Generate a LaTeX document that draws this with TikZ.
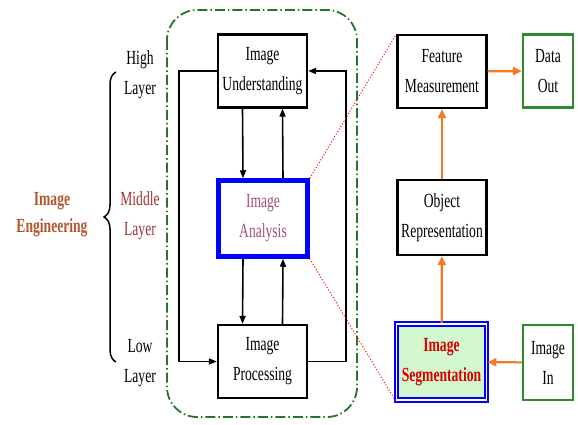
\documentclass[tikz,border=0pt]{standalone}
\usepackage{fontspec}
\setmainfont{Liberation Serif}[FakeStretch=0.68]
\usetikzlibrary{arrows.meta,decorations.pathreplacing}
\definecolor{engbrown}{HTML}{B4562E}
\definecolor{midred}{HTML}{A03434}
\definecolor{anapink}{HTML}{A2507C}
\definecolor{ioggreen}{HTML}{2E8B2E}
\definecolor{flow}{HTML}{F27A24}
\definecolor{seggreen}{HTML}{D2F7CF}
\tikzset{
  txt/.style={font=\fontsize{20}{30}\selectfont, align=center},
  blk/.style={txt, draw=black, line width=2.2pt, minimum width=89pt, minimum height=73pt, inner sep=1pt},
  iobox/.style={txt, draw=ioggreen, line width=2.2pt, minimum width=50pt, minimum height=73pt, inner sep=1pt},
  blkarrow/.style={line width=1.6pt, -{Triangle[length=8pt,width=6pt]}},
  flowarrow/.style={line width=2.2pt, color=flow, -{Triangle[length=9pt,width=8pt]}}
}

\begin{document}
\begin{tikzpicture}[x=1pt, y=-1pt]
			%%%%% START %%%%%
			\useasboundingbox (0, 0) rectangle (578, 425);
			
			\draw[line width=1.8pt, color=ioggreen!85!black, rounded corners=30pt, dash pattern=on 10pt off 3pt on 1.5pt off 3pt] (167, 10) rectangle (357, 417);
			
			\node[txt, color=engbrown, font=\fontsize{20}{27}\selectfont\bfseries] (eng) at (52, 215) {Image\\Engineering};
			\draw[line width=1.5pt, decorate, decoration={brace, amplitude=12pt}] (116, 362) -- (116, 72);
			
			\node[txt] (high) at (140, 75) {High\\Layer};
			\node[txt, color=midred] (mid) at (140, 216) {Middle\\Layer};
			\node[txt] (low) at (140, 363) {Low\\Layer};
			
			\node[blk] (und) at (262.5, 71) {Image\\Understanding};
			\node[blk, draw=blue, line width=4.5pt, minimum height=76pt, text=anapink] (ana) at (263, 218.5) {Image\\Analysis};
			\node[blk] (proc) at (262.5, 361.5) {Image\\Processing};
			
			\draw[blkarrow] ([xshift=-20pt]und.south) -- ([xshift=-20pt]ana.north);
			\draw[blkarrow] ([xshift=20pt]ana.north) -- ([xshift=20pt]und.south);
			\draw[blkarrow] ([xshift=-20pt]ana.south) -- ([xshift=-20pt]proc.north);
			\draw[blkarrow] ([xshift=20pt]proc.north) -- ([xshift=20pt]ana.south);
			\draw[blkarrow] (und.west) -- ++(-38, 0) |- (proc.west);
			\draw[blkarrow] (proc.east) -- ++(38, 0) |- (und.east);
			
			\node[blk] (feat) at (442, 71.5) {Feature\\Measurement};
			\node[blk, minimum height=75pt] (obj) at (442, 217.5) {Object\\Representation};
			\node[blk, draw=blue, line width=1.8pt, double=white, double distance=1.6pt, fill=seggreen, minimum width=90pt, minimum height=76pt, text=red!85!black, font=\fontsize{20}{30}\selectfont\bfseries] (seg) at (441.5, 362) {Image\\Segmentation};
			\node[iobox] (dout) at (548, 71) {Data\\Out};
			\node[iobox, minimum height=75pt] (din) at (548, 362.5) {Image\\In};
			
			\draw[flowarrow] (din) -- (seg);
			\draw[flowarrow] (seg) -- (obj);
			\draw[flowarrow] (obj) -- (feat);
			\draw[flowarrow] (feat) -- (dout);
			
			\draw[line width=1pt, color=red, dotted] (ana.north east) -- (feat.north west);
			\draw[line width=1pt, color=red, dotted] (ana.south east) -- (seg.south west);
			
			%%%%% END %%%%%
		\end{tikzpicture}
\end{document}
